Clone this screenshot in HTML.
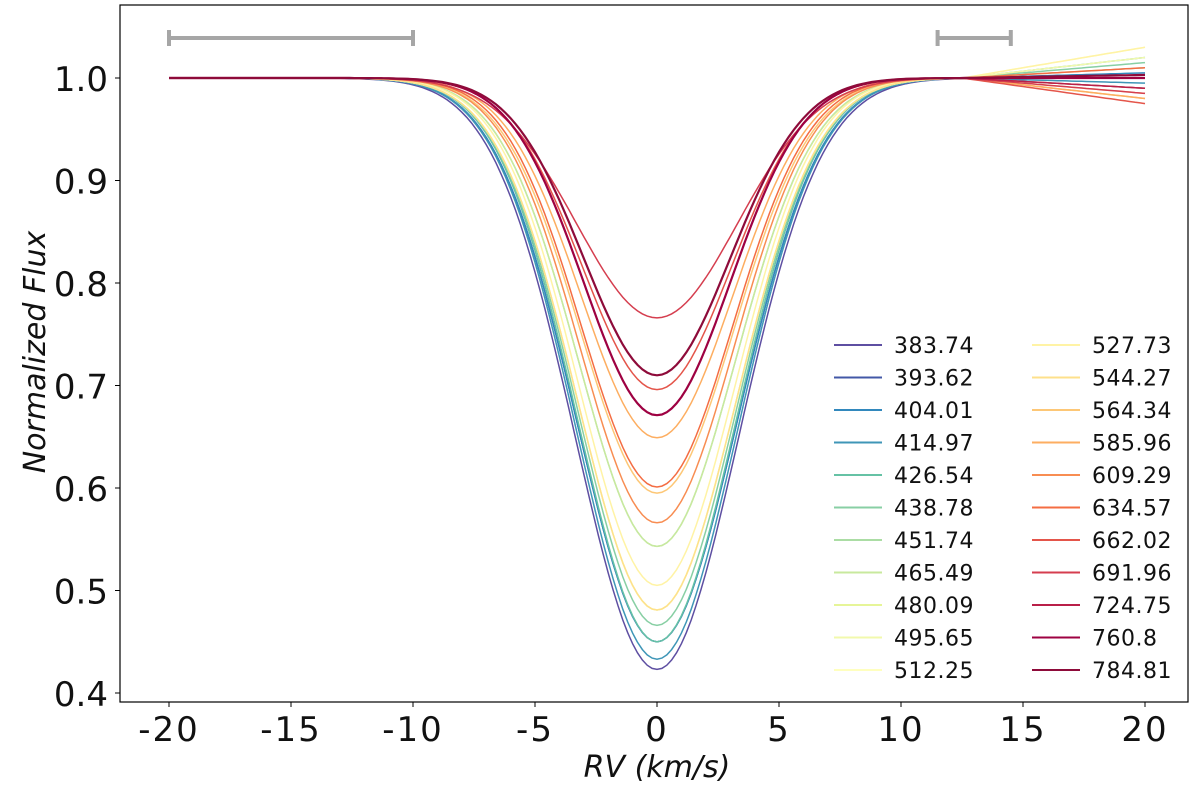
<!DOCTYPE html>
<html><head><meta charset="utf-8"><style>
body{margin:0;background:#fff;}
svg{display:block;font-family:"DejaVu Sans","Liberation Sans",sans-serif;}
</style></head><body>
<svg id="chart" width="1200" height="793" viewBox="0 0 1200 793"></svg>
<script>
const labels=["383.74","393.62","404.01","414.97","426.54","438.78","451.74","465.49","480.09","495.65","512.25","527.73","544.27","564.34","585.96","609.29","634.57","662.02","691.96","724.75","760.8","784.81"];
const depths=[0.577,0.55,0.55,0.567,0.55,0.534,0.457,0.457,0.519,0.519,0.519,0.495,0.519,0.405,0.351,0.434,0.399,0.304,0.234,0.329,0.329,0.29];
const sigmas=[3.35,3.3,3.3,3.3,3.25,3.25,3.2,3.2,3.25,3.25,3.25,3.2,3.25,3.15,3.1,3.15,3.1,3.05,3.3,3.0,3.0,3.0];
const rightEnd=[0.99,1.0,1.005,0.995,1.02,1.015,1.01,1.0,1.0,1.02,1.03,1.03,0.985,0.98,0.98,0.99,1.01,0.975,0.985,0.99,1.0,1.003];
const xTicks=[-20,-15,-10,-5,0,5,10,15,20];
const yTicks=[0.4,0.5,0.6,0.7,0.8,0.9,1.0];
const colors=["#5e4fa2","#4358a7","#3288bd","#3f96b7","#66c2a5","#88cfa4","#abdda4","#c8e99e","#e6f598","#f2f9ac","#ffffbf","#fff3a5","#fee08b","#fdc776","#fdae61","#f88d52","#f46d43","#e4554a","#d53e4f","#b91f48","#9e0142","#8e0b3a"];
const NS="http://www.w3.org/2000/svg";
const svg=document.getElementById('chart');
const L=120,R=1188,T=5,B=702;
const xs=v=>657+v*24.4;
const ys=v=>78+(1.0-v)*1025;
function mk(t,a,p){const e=document.createElementNS(NS,t);for(const k in a)e.setAttribute(k,a[k]);(p||svg).appendChild(e);return e;}
const frame=mk('rect',{x:L,y:T,width:R-L,height:B-T,fill:'none',stroke:'#000','stroke-width':1.2});


xTicks.forEach(v=>{
 const t=mk('line',{x1:xs(v),x2:xs(v),y1:B,y2:B+5,stroke:'#000'});
 
 
 const tx=mk('text',{x:xs(v),y:B+39,'text-anchor':'middle','font-size':34,'letter-spacing':2,fill:'#111'});
 tx.textContent=(v<0?'-'+Math.abs(v):v);
 
 
});
yTicks.forEach(v=>{
 const t=mk('line',{x1:L-5,x2:L,y1:ys(v),y2:ys(v),stroke:'#000'});
 
 
 const tx=mk('text',{x:L-12,y:ys(v)+13,'text-anchor':'end','font-size':34,fill:'#111'});
 tx.textContent=v.toFixed(1);
 
 
});
const xl=mk('text',{x:657,y:777,'text-anchor':'middle','font-size':30,'font-style':'italic',fill:'#111'});
xl.textContent='RV (km/s)';


const yl=mk('text',{x:0,y:0,'text-anchor':'middle','font-size':30,'font-style':'italic',fill:'#111',transform:'translate(45,352) rotate(-90)'});
yl.textContent='Normalized Flux';


[[-20,-10],[11.5,14.5]].forEach(r=>{
 const g=mk('g',{stroke:'#a6a6a6','stroke-width':4});
 
 
 mk('line',{x1:xs(r[0]),x2:xs(r[1]),y1:38,y2:38},g);
 mk('line',{x1:xs(r[0]),x2:xs(r[0]),y1:30,y2:46},g);
 mk('line',{x1:xs(r[1]),x2:xs(r[1]),y1:30,y2:46},g);
});
labels.forEach((lab,i)=>{
 let d='';
 for(let k=0;k<=200;k++){
  const v=-20+k*0.2;
  let f=1-depths[i]*Math.exp(-v*v/(2*sigmas[i]*sigmas[i]));
  if(v>12.5){f+= (rightEnd[i]-1)*((v-12.5)/7.5);}
  d+=(k?'L':'M')+xs(v).toFixed(1)+','+ys(f).toFixed(1);
 }
 const p=mk('path',{d:d,fill:'none',stroke:colors[i],'stroke-width':i>=20?2.2:1.5});
 
 
});
labels.forEach((lab,i)=>{
 const col=i<11?0:1, row=i<11?i:i-11;
 const x=834+col*198, y=345+row*32.5;
 const g=mk('g',{});
 
 
 mk('line',{x1:x,x2:x+48,y1:y,y2:y,stroke:colors[i],'stroke-width':2},g);
 const t=mk('text',{x:x+60,y:y+8,'font-size':22,'letter-spacing':0.5,fill:'#111'},g);
 t.textContent=lab;
});
</script>
</body></html>
